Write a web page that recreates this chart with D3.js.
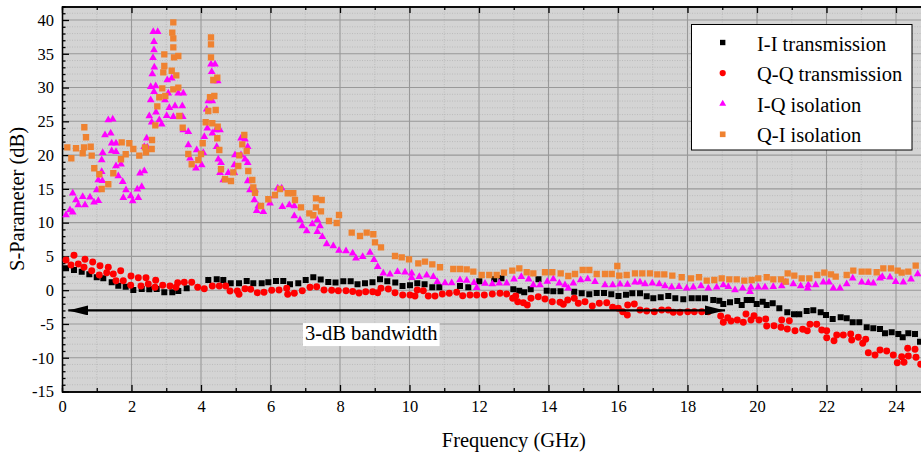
<!DOCTYPE html>
<html>
<head>
<meta charset="utf-8">
<script src="https://cdn.jsdelivr.net/npm/d3@7"></script>
<style>
  html, body { margin: 0; padding: 0; background: #ffffff; overflow: hidden; }
  svg { display: block; font-family: "Liberation Serif", "DejaVu Serif", serif; }
</style>
</head>
<body>
<svg id="chart" width="921" height="455"></svg>
<script>
// Axis ticks
const xMajorTicks = [0, 2, 4, 6, 8, 10, 12, 14, 16, 18, 20, 22, 24];
const xMinorTicks = [1, 3, 5, 7, 9, 11, 13, 15, 17, 19, 21, 23, 25];
const yMajorTicks = [-15, -10, -5, 0, 5, 10, 15, 20, 25, 30, 35, 40];
const yMinorTicks = d3.range(-15, 43).filter(v => v % 5 !== 0);

// Measured S-parameters: [frequency (GHz), magnitude (dB)]
const iiTransmission = [
  [0.115,3.24],[0.345,2.99],[0.567,2.74],[0.786,2.35],[0.999,1.91],[1.188,1.76],[1.430,1.17],[1.620,0.67],
  [1.833,0.52],[2.052,0.03],[2.294,0.18],[2.512,0.13],[2.725,0.18],[2.944,-0.31],[3.174,-0.31],[3.347,-0.12],
  [3.588,0.28],[4.210,1.51],[4.452,1.61],[4.642,1.51],[4.855,1.02],[5.094,1.02],[5.315,1.36],[5.505,1.02],
  [5.747,1.02],[5.937,1.17],[6.158,1.36],[6.368,1.36],[6.561,0.87],[6.800,1.02],[7.013,1.51],[7.232,1.91],
  [7.445,1.58],[7.663,1.21],[7.871,1.14],[8.095,1.32],[8.308,1.32],[8.504,0.87],[8.719,1.02],[8.935,1.17],
  [9.151,1.61],[9.361,1.32],[9.591,1.14],[9.799,0.62],[10.014,0.73],[10.224,1.02],[10.434,0.87],[10.656,0.43],
  [10.858,0.43],[11.453,0.62],[11.692,0.43],[12.009,1.32],[12.440,1.61],[12.647,1.76],[12.987,0.13],[13.157,-0.07],
  [13.301,-0.31],[13.488,0.13],[13.712,1.61],[13.948,-0.07],[14.138,-0.16],[14.345,-0.16],[14.740,-0.22],[14.955,-0.46],
  [15.174,-0.59],[15.387,-0.41],[15.597,-0.41],[15.807,-0.59],[16.014,-0.86],[16.230,-0.67],[16.412,-0.46],[16.633,-0.46],
  [16.826,-0.90],[17.016,-1.20],[17.229,-1.05],[17.447,-0.86],[17.649,-1.20],[17.879,-1.35],[18.121,-1.20],[18.311,-1.20],
  [18.504,-1.20],[18.742,-1.45],[18.915,-1.55],[19.030,-2.04],[19.223,-1.79],[19.433,-1.60],[19.560,-2.19],[19.703,-1.45],
  [19.847,-1.45],[19.991,-2.04],[20.164,-1.70],[20.279,-2.19],[20.452,-1.94],[20.642,-2.68],[20.872,-3.27],[21.065,-3.57],
  [21.217,-3.57],[21.430,-3.08],[21.620,-2.98],[21.833,-3.27],[21.986,-3.67],[22.178,-4.26],[22.408,-4.01],[22.581,-4.16],
  [22.754,-4.75],[22.944,-4.75],[23.157,-5.49],[23.347,-5.64],[23.540,-5.74],[23.683,-6.38],[23.876,-6.23],[24.067,-6.48],
  [24.193,-6.97],[24.354,-6.38],[24.547,-6.48],[24.691,-7.62]
];

const qqTransmission = [
  [0.115,4.47],[0.259,3.72],[0.345,5.17],[0.469,3.88],[0.633,3.39],[0.662,4.57],[0.855,2.89],[0.883,4.17],
  [1.073,2.25],[1.094,3.63],[1.286,2.59],[1.332,3.39],[1.476,2.40],[1.554,1.41],[1.689,2.89],[1.764,1.41],
  [1.977,0.73],[1.986,2.10],[2.196,1.85],[2.273,0.62],[2.417,1.85],[2.483,0.92],[2.676,0.43],[2.696,1.47],
  [2.898,0.73],[3.108,0.62],[3.281,0.43],[3.329,1.11],[3.519,1.17],[3.732,1.17],[3.905,0.43],[4.095,0.22],
  [4.325,0.62],[4.527,0.62],[4.711,0.62],[4.835,-0.12],[5.045,-0.12],[5.094,-0.61],[5.266,0.22],[5.430,0.13],
  [5.620,-0.37],[5.813,-0.31],[6.035,-0.01],[6.245,0.03],[6.466,0.28],[6.495,-0.61],[6.685,-0.46],[6.915,-0.07],
  [7.137,0.43],[7.329,0.52],[7.540,0.03],[7.761,-0.01],[7.951,-0.07],[8.173,-0.07],[8.365,-0.19],[8.547,-0.41],
  [8.739,-0.22],[8.941,-0.22],[9.085,-0.37],[9.180,0.28],[9.390,0.18],[9.583,-0.37],[9.804,-0.71],[10.014,-0.71],
  [10.158,-0.86],[10.224,0.03],[10.397,-0.07],[10.541,-0.86],[10.734,-0.86],[10.944,-0.56],[11.145,-0.46],[11.358,-0.31],
  [11.531,-0.81],[11.741,-0.71],[11.934,-0.71],[12.153,-0.71],[12.383,-0.56],[12.604,-0.46],[12.797,-0.56],[12.970,-1.20],
  [13.056,-0.86],[13.114,-1.70],[13.275,-1.85],[13.390,-2.19],[13.496,-1.20],[13.706,-0.96],[13.899,-1.30],[14.109,-1.70],
  [14.331,-1.79],[14.426,-2.09],[14.553,-1.45],[14.742,-1.20],[14.858,-1.94],[15.050,-1.70],[15.260,-2.34],[15.462,-1.94],
  [15.675,-1.85],[15.847,-2.53],[16.009,-2.68],[16.135,-3.18],[16.268,-3.67],[16.279,-2.19],[16.469,-2.04],[16.633,-2.93],
  [16.826,-3.08],[17.045,-3.18],[17.257,-2.93],[17.447,-2.93],[17.591,-3.27],[17.784,-3.27],[18.006,-3.18],[18.196,-3.18],
  [18.409,-3.18],[18.599,-3.18],[18.955,-3.82],[19.030,-4.75],[19.157,-4.07],[19.252,-4.56],[19.433,-4.41],[19.606,-4.75],
  [19.683,-3.52],[19.827,-4.41],[19.914,-3.77],[20.058,-4.41],[20.250,-4.26],[20.279,-5.30],[20.489,-5.26],[20.691,-5.49],
  [20.711,-4.41],[20.872,-5.74],[20.930,-4.52],[21.094,-6.00],[21.315,-5.79],[21.447,-6.00],[21.525,-5.05],[21.718,-5.05],
  [21.862,-5.89],[22.006,-6.00],[22.006,-7.03],[22.216,-7.48],[22.294,-6.63],[22.484,-6.63],[22.696,-6.48],[22.725,-7.37],
  [22.915,-6.97],[23.042,-7.86],[23.128,-7.27],[23.203,-9.25],[23.396,-9.59],[23.540,-8.85],[23.732,-9.00],[23.922,-9.59],
  [24.037,-10.73],[24.164,-9.84],[24.230,-10.67],[24.337,-8.60],[24.354,-9.74],[24.547,-8.75],[24.576,-9.93],[24.711,-10.97]
];

const iqIsolation = [
  [0.115,11.13],[0.230,11.87],[0.308,11.53],[0.308,14.35],[0.403,13.35],[0.469,12.61],[0.596,13.84],[0.662,12.61],
  [0.806,13.75],[0.921,13.01],[0.999,14.83],[1.045,13.25],[1.045,16.31],[1.142,17.54],[1.142,19.27],[1.160,16.21],
  [1.171,20.36],[1.237,22.98],[1.332,25.20],[1.401,23.23],[1.430,21.75],[1.430,20.61],[1.459,25.30],[1.554,21.75],
  [1.554,20.50],[1.554,18.39],[1.620,16.91],[1.698,18.64],[1.747,16.06],[1.764,13.69],[1.842,14.83],[1.977,13.95],
  [2.035,13.21],[2.167,14.94],[2.196,13.69],[2.245,17.31],[2.294,15.32],[2.368,17.65],[2.368,21.24],[2.437,22.49],
  [2.455,21.15],[2.512,25.79],[2.553,30.13],[2.553,28.16],[2.581,24.86],[2.599,32.01],[2.619,34.42],[2.627,38.27],
  [2.647,36.79],[2.647,35.56],[2.647,29.39],[2.656,33.00],[2.696,30.23],[2.705,26.34],[2.754,38.27],[2.800,25.20],
  [2.869,24.56],[2.964,28.16],[3.013,25.83],[3.030,31.12],[3.059,29.15],[3.088,27.02],[3.157,31.37],[3.203,25.68],
  [3.252,27.27],[3.347,29.15],[3.462,27.27],[3.473,25.68],[3.491,29.15],[3.491,23.72],[3.635,23.46],[3.635,21.50],
  [3.683,19.53],[3.856,18.05],[3.876,20.76],[4.020,18.53],[4.066,20.36],[4.095,22.72],[4.164,26.78],[4.181,23.97],
  [4.210,28.01],[4.288,33.44],[4.308,32.35],[4.325,28.01],[4.325,23.23],[4.383,30.97],[4.403,33.44],[4.423,23.72],
  [4.452,21.24],[4.481,30.97],[4.498,19.38],[4.547,23.72],[4.547,17.39],[4.576,18.87],[4.642,16.31],[4.786,17.39],
  [4.958,18.53],[4.958,17.39],[4.978,20.01],[5.151,22.49],[5.151,20.01],[5.266,22.34],[5.266,19.38],[5.344,21.24],
  [5.344,18.87],[5.344,16.17],[5.410,14.83],[5.534,13.35],[5.554,14.83],[5.603,11.77],[5.649,12.47],[5.793,11.62],
  [5.986,12.86],[6.109,13.95],[6.207,15.09],[6.322,15.09],[6.340,12.36],[6.541,12.61],[6.685,12.46],[6.685,10.98],
  [6.849,10.39],[6.915,9.50],[7.042,8.76],[7.203,9.80],[7.347,10.39],[7.424,9.50],[7.347,8.66],[7.491,7.92],
  [7.617,6.84],[7.807,6.54],[7.971,5.88],[8.173,5.80],[8.365,5.46],[8.460,4.72],[8.653,4.96],[8.863,5.58],
  [8.978,4.52],[9.085,3.48],[9.246,2.50],[9.439,2.35],[9.655,2.74],[9.871,2.65],[10.063,2.50],[10.063,1.85],
  [10.282,2.00],[10.495,2.21],[10.685,2.00],[10.800,1.26],[11.022,1.07],[11.214,1.07],[11.453,1.51],[11.646,1.44],
  [11.856,1.11],[11.934,0.37],[12.173,0.99],[12.383,0.92],[12.584,1.02],[12.797,1.02],[13.007,1.61],[13.217,2.00],
  [13.430,1.61],[13.563,0.77],[13.755,0.77],[13.965,1.29],[14.138,1.66],[14.311,1.02],[14.475,0.77],[14.570,0.28],
  [14.714,1.02],[14.927,1.51],[15.128,1.66],[15.338,1.26],[15.626,0.77],[15.847,0.77],[16.058,0.87],[16.273,0.84],
  [16.489,1.17],[16.633,1.17],[16.777,0.92],[16.987,1.02],[17.188,0.92],[17.353,0.62],[17.545,0.43],[17.755,0.52],
  [17.977,0.28],[18.167,0.43],[18.388,0.62],[18.599,0.28],[18.840,0.43],[19.030,0.77],[19.174,0.52],[19.367,0.03],
  [19.588,0.28],[19.799,-0.22],[19.827,0.43],[20.037,0.43],[20.230,0.43],[20.469,0.52],[20.711,0.62],[20.826,1.17],
  [21.044,0.92],[21.257,0.62],[21.459,0.28],[21.476,0.77],[21.689,0.77],[21.908,1.17],[22.072,1.17],[22.196,0.28],
  [22.388,0.28],[22.581,0.92],[22.754,1.76],[23.013,1.17],[23.203,1.11],[23.347,1.02],[23.540,1.76],[23.606,2.00],
  [23.827,1.91],[23.991,1.26],[24.210,1.17],[24.432,1.61],[24.624,2.40]
];

const qiIsolation = [
  [0.153,21.15],[0.268,19.53],[0.403,21.01],[0.596,20.27],[0.633,21.15],[0.642,24.12],[0.691,22.64],[0.826,21.24],
  [0.855,19.91],[0.929,18.05],[1.073,17.16],[1.142,14.98],[1.332,15.68],[1.476,17.31],[1.698,19.38],[1.718,21.89],
  [1.833,20.12],[1.937,21.75],[2.052,20.90],[2.224,19.91],[2.388,21.15],[2.417,20.41],[2.581,20.90],[2.590,22.24],
  [2.685,24.41],[2.742,27.22],[2.800,28.56],[2.886,29.89],[2.915,32.26],[2.944,34.92],[2.944,33.19],[2.973,28.75],
  [3.157,32.49],[3.174,38.12],[3.203,39.66],[3.203,37.29],[3.203,35.96],[3.203,29.74],[3.223,34.48],[3.289,31.81],
  [3.347,34.67],[3.347,29.98],[3.376,25.79],[3.473,24.06],[3.635,20.16],[3.732,18.64],[3.922,19.27],[4.000,20.16],
  [4.049,21.75],[4.135,24.86],[4.210,26.53],[4.259,28.56],[4.288,37.44],[4.288,36.40],[4.288,34.48],[4.325,24.71],
  [4.354,31.12],[4.383,28.75],[4.423,26.68],[4.469,31.46],[4.469,22.49],[4.481,24.20],[4.527,20.76],[4.576,17.90],
  [4.691,16.42],[4.863,16.17],[4.930,17.45],[5.073,18.39],[5.102,19.97],[5.188,21.60],[5.246,22.98],[5.315,20.61],
  [5.361,17.65],[5.476,16.31],[5.505,15.23],[5.554,14.43],[5.727,12.46],[5.937,13.46],[6.129,14.09],[6.273,14.98],
  [6.495,14.35],[6.656,14.35],[6.705,13.35],[6.878,12.27],[7.117,11.38],[7.232,11.09],[7.309,13.60],[7.309,12.27],
  [7.453,11.68],[7.473,13.35],[7.683,10.24],[7.905,9.95],[7.971,11.13],[8.337,8.51],[8.576,8.02],[8.768,8.51],
  [8.958,8.28],[9.007,7.09],[9.180,6.35],[9.583,5.06],[9.776,4.87],[9.986,4.57],[10.253,3.98],[10.446,4.22],
  [10.656,3.83],[10.878,3.39],[11.260,3.14],[11.453,3.14],[11.646,3.09],[11.836,2.74],[12.078,2.25],[12.296,2.25],
  [12.509,2.25],[12.719,2.59],[12.958,2.89],[13.160,3.24],[13.373,2.65],[13.563,2.50],[13.899,2.65],[14.109,2.65],
  [14.351,2.50],[14.570,2.10],[14.763,2.40],[14.984,2.99],[15.174,2.99],[15.387,2.40],[15.626,2.40],[15.819,2.40],
  [15.980,3.58],[16.037,2.15],[16.250,2.25],[16.489,2.50],[16.699,2.50],[16.921,2.50],[17.131,2.35],[17.332,2.35],
  [17.563,2.15],[17.833,1.91],[18.101,1.76],[18.331,1.91],[18.553,1.41],[18.771,1.51],[18.984,1.76],[19.203,1.61],
  [19.416,1.61],[19.635,1.41],[19.847,1.51],[20.037,1.76],[20.279,1.91],[20.469,1.61],[20.691,1.61],[20.826,1.26],
  [20.883,2.50],[21.073,2.15],[21.286,1.76],[21.505,1.76],[21.735,2.25],[21.937,2.59],[22.129,2.35],[22.265,2.00],
  [22.581,2.25],[22.771,2.89],[23.013,2.74],[23.203,2.74],[23.444,2.65],[23.635,3.24],[23.856,3.24],[24.049,2.89],
  [24.164,2.59],[24.354,2.74],[24.567,3.63]
];

// 3-dB bandwidth annotation
const bandwidthLevel = -3;        // dB
const bandwidthStart = 0.18;      // GHz
const bandwidthEnd = 19.08;       // GHz
const bandwidthLabel = "3-dB bandwidth";
const bandwidthLabelAt = [8.9, -6.35];

const xTitle = "Frequency (GHz)";
const yTitle = "S-Parameter (dB)";

const series = [
  { name: "I-I transmission", data: iiTransmission, symbol: d3.symbolSquare,   size: 36, color: "#000000" },
  { name: "Q-Q transmission", data: qqTransmission, symbol: d3.symbolCircle,   size: 38, color: "#ff0000" },
  { name: "I-Q isolation",    data: iqIsolation,    symbol: d3.symbolTriangle, size: 26, color: "#ff00ff" },
  { name: "Q-I isolation",    data: qiIsolation,    symbol: d3.symbolSquare,   size: 40, color: "#ef8230" }
];

const textSize = 20.5;

// Layout
const svg = d3.select("#chart");
const plot = { left: 62, top: 6.5, bottom: 391.5 };
const x = d3.scaleLinear().domain([0, 26]).range([plot.left, plot.left + 26 * 34.75]);
const y = d3.scaleLinear().domain([-15, 42]).range([plot.bottom, plot.top]);
const plotRight = x(26);

svg.append("defs").append("clipPath").attr("id", "plot-clip")
  .append("rect")
  .attr("x", plot.left).attr("y", plot.top)
  .attr("width", plotRight - plot.left).attr("height", plot.bottom - plot.top);

// Background
svg.append("rect")
  .attr("x", plot.left).attr("y", plot.top)
  .attr("width", plotRight - plot.left).attr("height", plot.bottom - plot.top)
  .attr("fill", "#d4d4d4");

// Grid
const grid = svg.append("g").attr("clip-path", "url(#plot-clip)");
grid.selectAll("line.xminor").data(xMinorTicks).join("line")
  .attr("x1", d => x(d)).attr("x2", d => x(d))
  .attr("y1", plot.top).attr("y2", plot.bottom)
  .attr("stroke", "#b5b5b5").attr("stroke-width", 0.8).attr("stroke-dasharray", "1,1.5");
grid.selectAll("line.yminor").data(yMinorTicks).join("line")
  .attr("x1", plot.left).attr("x2", plotRight)
  .attr("y1", d => y(d)).attr("y2", d => y(d))
  .attr("stroke", "#b5b5b5").attr("stroke-width", 0.8).attr("stroke-dasharray", "1,1.5");
grid.selectAll("line.xmajor").data(xMajorTicks).join("line")
  .attr("x1", d => x(d)).attr("x2", d => x(d))
  .attr("y1", plot.top).attr("y2", plot.bottom)
  .attr("stroke", "#999999").attr("stroke-width", 1.1);
grid.selectAll("line.ymajor").data(yMajorTicks).join("line")
  .attr("x1", plot.left).attr("x2", plotRight)
  .attr("y1", d => y(d)).attr("y2", d => y(d))
  .attr("stroke", "#999999").attr("stroke-width", 1.1);

// Axes with inward ticks
function styleAxis(g) {
  g.selectAll("path.domain").attr("stroke", "#000").attr("stroke-width", 1.3);
  g.selectAll(".tick line").attr("stroke", "#000").attr("stroke-width", 1.3);
  g.selectAll(".tick text").attr("fill", "#000").attr("font-size", 16.5)
    .attr("font-family", '"Liberation Serif", serif');
}
const fmt = d => String(d);

svg.append("g").attr("transform", `translate(0,${plot.bottom})`)
  .call(d3.axisBottom(x).tickValues(xMinorTicks).tickSize(-3.5).tickFormat(""))
  .call(styleAxis);
svg.append("g").attr("transform", `translate(0,${plot.bottom})`)
  .call(d3.axisBottom(x).tickValues(xMajorTicks).tickSizeInner(-6.5).tickSizeOuter(0).tickPadding(9).tickFormat(fmt))
  .call(styleAxis);
svg.append("g").attr("transform", `translate(0,${plot.top})`)
  .call(d3.axisTop(x).tickValues(xMinorTicks).tickSize(-3.5).tickFormat(""))
  .call(styleAxis);
svg.append("g").attr("transform", `translate(0,${plot.top})`)
  .call(d3.axisTop(x).tickValues(xMajorTicks).tickSizeInner(-6.5).tickSizeOuter(0).tickFormat(""))
  .call(styleAxis);
svg.append("g").attr("transform", `translate(${plot.left},0)`)
  .call(d3.axisLeft(y).tickValues(yMinorTicks).tickSize(-3.5).tickFormat(""))
  .call(styleAxis);
svg.append("g").attr("transform", `translate(${plot.left},0)`)
  .call(d3.axisLeft(y).tickValues(yMajorTicks).tickSizeInner(-7).tickSizeOuter(0).tickPadding(8).tickFormat(fmt))
  .call(styleAxis);

// Data markers
const marks = svg.append("g").attr("clip-path", "url(#plot-clip)");
series.forEach(s => {
  const sym = d3.symbol().type(s.symbol).size(s.size);
  marks.append("g").selectAll("path").data(s.data).join("path")
    .attr("transform", d => `translate(${x(d[0])},${y(d[1])})`)
    .attr("d", sym)
    .attr("fill", s.color);
});

// 3-dB bandwidth arrow
const defs = svg.select("defs");
["start", "end"].forEach(kind => {
  defs.append("marker")
    .attr("id", "arrow-" + kind)
    .attr("viewBox", "0 0 20 10")
    .attr("refX", kind === "end" ? 20 : 0).attr("refY", 5)
    .attr("markerUnits", "userSpaceOnUse")
    .attr("markerWidth", 20).attr("markerHeight", 10)
    .attr("orient", "auto")
    .append("path")
    .attr("d", kind === "end" ? "M0,0 L20,5 L0,10 Z" : "M20,0 L0,5 L20,10 Z")
    .attr("fill", "#000");
});
svg.append("line")
  .attr("x1", x(bandwidthStart)).attr("x2", x(bandwidthEnd))
  .attr("y1", y(bandwidthLevel)).attr("y2", y(bandwidthLevel))
  .attr("stroke", "#000").attr("stroke-width", 2.2)
  .attr("marker-start", "url(#arrow-start)")
  .attr("marker-end", "url(#arrow-end)");

const bwText = svg.append("text")
  .attr("x", x(bandwidthLabelAt[0])).attr("y", y(bandwidthLabelAt[1]))
  .attr("text-anchor", "middle").attr("dominant-baseline", "central")
  .attr("font-size", textSize).attr("fill", "#000")
  .text(bandwidthLabel);
const bb = bwText.node().getBBox();
svg.insert("rect", () => bwText.node())
  .attr("x", bb.x - 2).attr("y", bb.y + 1)
  .attr("width", bb.width + 4).attr("height", bb.height + 1)
  .attr("fill", "#ffffff");

// Axis titles
svg.append("text")
  .attr("x", (plot.left + plotRight) / 2).attr("y", 447)
  .attr("text-anchor", "middle").attr("font-size", textSize).attr("fill", "#000")
  .text(xTitle);
svg.append("text")
  .attr("transform", `translate(24,${(plot.top + plot.bottom) / 2}) rotate(-90)`)
  .attr("text-anchor", "middle").attr("font-size", textSize).attr("fill", "#000")
  .text(yTitle);

// Legend
const legend = svg.append("g");
legend.append("rect")
  .attr("x", 691.5).attr("y", 24.5).attr("width", 220.5).attr("height", 125.5)
  .attr("fill", "#ffffff").attr("stroke", "#000").attr("stroke-width", 1);
series.forEach((s, i) => {
  const cy = 42.5 + i * 30.6;
  legend.append("path")
    .attr("transform", `translate(722.7,${cy})`)
    .attr("d", d3.symbol().type(s.symbol).size(s.size * 0.8))
    .attr("fill", s.color);
  legend.append("text")
    .attr("x", 757).attr("y", cy + 1).attr("dominant-baseline", "central")
    .attr("font-size", textSize).attr("fill", "#000")
    .text(s.name);
});
</script>
</body>
</html>
